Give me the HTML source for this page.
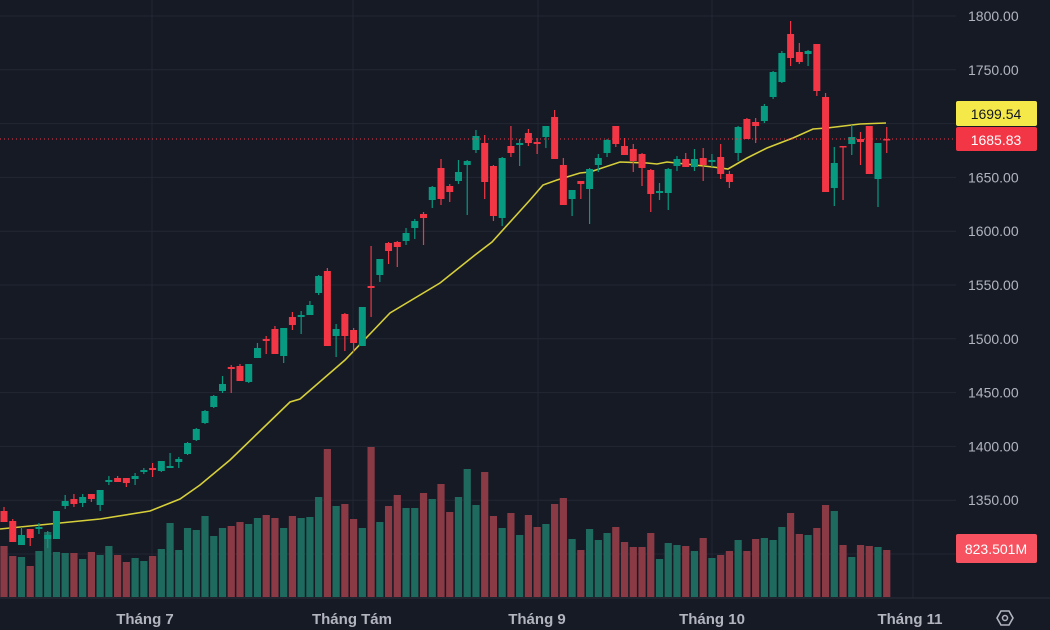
<!DOCTYPE html>
<html><head><meta charset="utf-8"><style>
html,body{margin:0;padding:0;background:#161a25;width:1050px;height:630px;overflow:hidden}
svg{display:block}
text{font-family:"Liberation Sans",sans-serif}
</style></head><body>
<svg id="c" width="1050" height="630" xmlns="http://www.w3.org/2000/svg">
<rect width="1050" height="630" fill="#161a25"/>
<g id="grid" stroke="#232734" stroke-width="1"></g>
<g id="vol"></g>
<polyline id="ma" fill="none" stroke="#d6cf3a" stroke-width="1.6" points="0,529 50,524 100,519 150,511 180,499 200,485 230,460 260,431 290,402 300,399 345,360 390,313 440,283 475,255 492,242 530,200 543,185 557,180 580,173 590,172 620,162 647,163 657,164 667,162 713,167 728,169 747,158 767,148 793,138 813,129 827,128 860,124 886,123"/>
<g id="cnd"></g>
<line x1="0" y1="139" x2="956" y2="139" stroke="#f23645" stroke-width="1" stroke-dasharray="1,3"/>
<line x1="0" y1="598" x2="1050" y2="598" stroke="#2a2e39"/>
<g font-size="14" fill="#b2b5be" id="plab"></g>
<rect x="956" y="101" width="81" height="25" rx="2" fill="#f5e94a"/>
<text x="996" y="119" font-size="14" fill="#131722" text-anchor="middle">1699.54</text>
<rect x="956" y="127" width="81" height="24" rx="2" fill="#f23645"/>
<text x="996" y="145" font-size="14" fill="#ffffff" text-anchor="middle">1685.83</text>
<rect x="956" y="534" width="81" height="29" rx="2" fill="#f7525f"/>
<text x="996" y="554" font-size="14" fill="#ffffff" text-anchor="middle">823.501M</text>
<g font-size="15" font-weight="bold" fill="#b2b5be" text-anchor="middle">
<text x="145" y="624">Tháng 7</text>
<text x="352" y="624">Tháng Tám</text>
<text x="537" y="624">Tháng 9</text>
<text x="712" y="624">Tháng 10</text>
<text x="910" y="624">Tháng 11</text>
</g>
<polygon points="997,618 1001,611 1009,611 1013,618 1009,625 1001,625" fill="none" stroke="#b2b5be" stroke-width="1.6"/>
<circle cx="1005" cy="618" r="2.5" fill="none" stroke="#b2b5be" stroke-width="1.5"/>
</svg>
<script>
var NS="http://www.w3.org/2000/svg";
function el(p,t,a){var e=document.createElementNS(NS,t);for(var k in a)e.setAttribute(k,a[k]);p.appendChild(e);return e;}
var grid=document.getElementById('grid');
for(var p=1800;p>=1300;p-=50){var y=16+(1800-p)/50*53.8;el(grid,'line',{x1:0,x2:956,y1:y,y2:y});}
[152,353,538,712,913].forEach(function(x){el(grid,'line',{x1:x,x2:x,y1:0,y2:598});});
var pl=document.getElementById('plab');
for(var p=1800;p>=1350;p-=50){if(p==1700)continue;var y=16+(1800-p)/50*53.8;var t=el(pl,'text',{x:968,y:y+5});t.textContent=p+".00";}
var C=[["r",507,511,522,522],["r",519,521,542,542],["g",527,535,545,545],["r",529,529,538,546],["g",523,527,529,534],["g",531,535,539,548],["g",511,511,539,539],["g",495,501,506,509],["r",494,499,504,507],["g",494,497,503,507],["r",494,494,499,502],["g",490,490,505,511],["g",476,480,482,485],["r",476,478,482,482],["r",478,478,483,487],["g",473,476,479,485],["g",468,470,472,474],["r",463,468,470,477],["g",461,461,471,472],["g",453,466,468,468],["g",457,459,462,468],["g",442,443,454,455],["g",428,429,440,441],["g",410,411,423,424],["g",395,396,407,408],["g",376,384,391,393],["r",365,367,369,393],["r",364,366,381,381],["g",364,364,382,383],["g",343,348,358,358],["r",336,339,341,354],["r",326,329,354,354],["g",328,328,356,363],["r",312,317,325,330],["g",311,315,317,334],
["g",301,305,315,315],["g",275,276,293,295],["r",268,271,346,346],["g",324,329,336,357],["r",313,314,336,351],["r",328,330,343,352],["g",307,307,346,346],["r",246,286,288,317],["g",259,259,275,282],["r",242,243,251,264],["r",241,242,247,267],["g",228,233,241,245],["g",219,221,228,239],["r",212,214,218,245],["g",186,187,200,208],["r",159,168,199,205],["r",184,186,192,202],["g",160,172,181,184],["g",160,161,165,215],["g",130,136,150,153],["r",135,143,182,199],["r",165,166,216,221],["g",157,158,218,226],["r",126,146,153,157],["g",139,143,145,166],["r",129,133,143,146],["r",138,142,144,154],["g",126,126,137,148],["r",110,117,159,159],["r",158,165,205,205],["g",190,190,199,216],["r",181,181,184,199],["g",168,169,189,224],
["g",154,158,165,172],["g",139,140,153,157],["r",126,126,144,147],["r",138,146,155,155],["r",144,149,161,172],["r",153,154,168,186],["r",169,170,194,212],["g",183,191,193,200],["g",168,169,193,210],["g",156,159,166,171],["r",153,159,167,167],["g",149,159,167,171],["r",148,158,165,181],["g",154,160,162,167],["r",144,157,174,179],["r",171,174,182,188],["g",126,127,153,161],["r",118,119,139,139],["r",118,122,126,143],["g",104,106,121,123],["g",71,72,97,99],["g",51,53,82,83],["r",21,34,58,66],["r",43,52,62,64],["g",50,51,54,66],["r",44,44,91,96],["r",93,97,192,192],["g",147,163,188,206],["r",146,146,147,200],["g",125,137,144,155],["r",132,139,142,165],["r",126,126,174,174],["g",143,143,179,207],["r",127,139,140,153]];
var V="r546 r556 g557 r566 g551 g532 g552 g553 r553 g559 r552 g555 g546 r555 r562 g558 g561 r556 g549 g523 g550 g528 g530 g516 g536 g528 r526 r522 g524 g518 r515 r518 g528 r516 g518 g517 g497 r449 g506 r504 r519 g528 r447 g522 r506 r495 g508 g508 r493 g499 r484 r512 g497 g469 g505 r472 r516 g528 r513 g535 r515 r527 g524 r504 r498 g539 r550 g529 g540 g533 r527 r542 r547 r547 r533 g559 g543 g545 r546 g551 r538 g558 r555 r551 g540 r551 r539 g538 g540 g527 r513 r534 g535 r528 r505 g511 r545 g557 r545 r546 g547 r550".split(" ");
var vg=document.getElementById('vol'),cg=document.getElementById('cnd');
for(var i=0;i<C.length;i++){
 var x=4+i*8.74;
 var v=V[i];var vt=+v.slice(1);
 el(vg,'rect',{x:x-3.6,y:vt,width:7.2,height:597-vt,fill:v[0]=='r'?'#8a3a45':'#1f6a5f'});
 var c=C[i],col=c[0]=='r'?'#f23645':'#089981';
 el(cg,'line',{x1:x,x2:x,y1:c[1],y2:c[4],stroke:col,'stroke-width':1.2});
 var h=Math.max(1.5,c[3]-c[2]);
 el(cg,'rect',{x:x-3.5,y:c[2],width:7,height:h,fill:col});
}
</script>
</body></html>
